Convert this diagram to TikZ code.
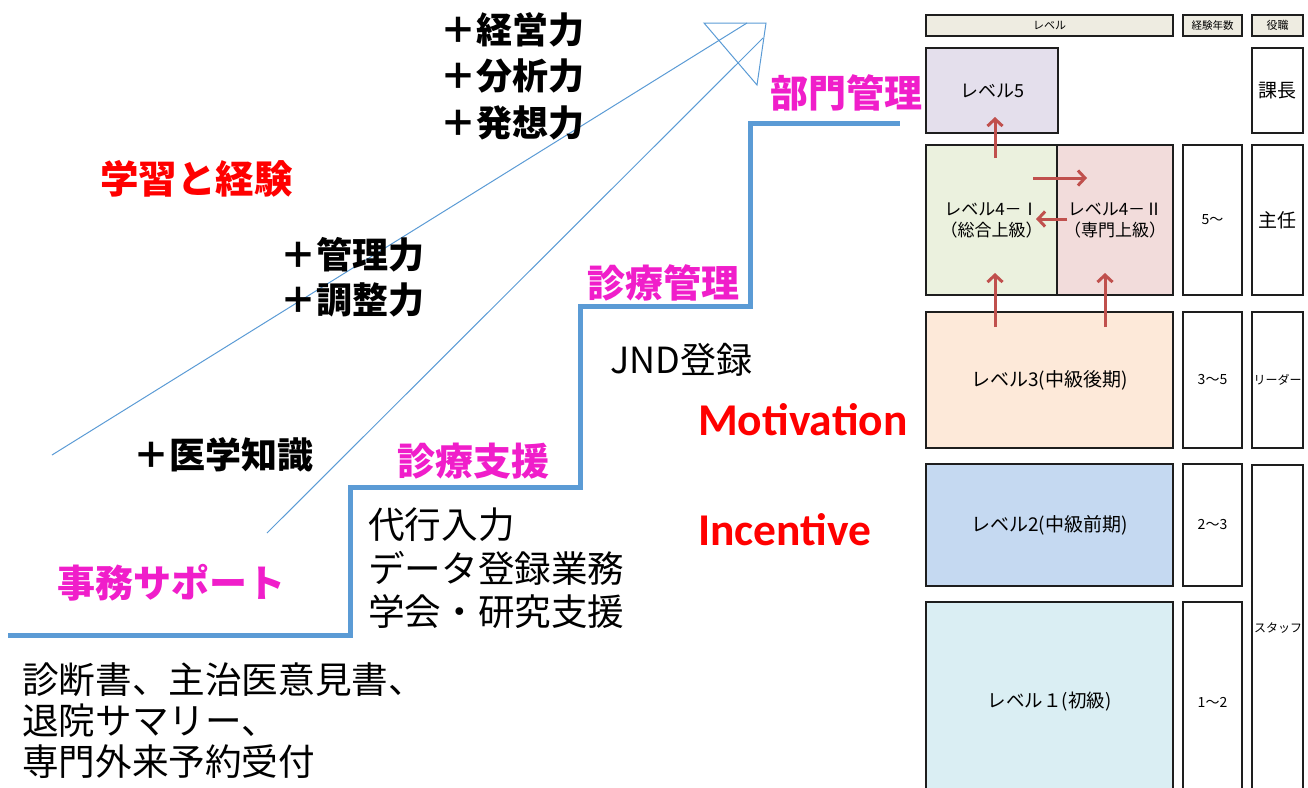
\documentclass[tikz,border=0pt]{standalone}
\usepackage{fontspec}
\setmainfont{Noto Sans CJK JP}
\newfontfamily\latfont{Carlito}
\usetikzlibrary{arrows.meta}
\definecolor{stepblue}{HTML}{5B9BD5}
\definecolor{magtext}{HTML}{F01ECA}
\definecolor{redtext}{HTML}{FF0000}
\definecolor{arrred}{HTML}{C0504D}
\definecolor{cellline}{HTML}{1E1E1E}
\definecolor{hdrfill}{HTML}{EEECE1}
\definecolor{lvfive}{HTML}{E4DFEC}
\definecolor{lvfoura}{HTML}{EBF1DE}
\definecolor{lvfourb}{HTML}{F2DCDB}
\definecolor{lvthree}{HTML}{FDE9D9}
\definecolor{lvtwo}{HTML}{C5D9F1}
\definecolor{lvone}{HTML}{DAEEF3}
\begin{document}
\begin{tikzpicture}[x=1pt,y=-1pt,
  blabel/.style={font=\fontsize{36}{36}\selectfont\bfseries, inner sep=0, anchor=west},
  maglabel/.style={font=\fontsize{38}{38}\selectfont\bfseries, text=magtext, inner sep=0, anchor=west},
  bodytext/.style={font=\fontsize{36.6}{36.6}\selectfont, inner sep=0, anchor=west},
  engred/.style={font=\latfont\fontsize{45.5}{45.5}\selectfont\bfseries, text=redtext, inner sep=0, anchor=base west},
  cell/.style={draw=cellline, line width=2pt, inner sep=0, text=black},
  thinarrow/.style={draw=stepblue, line width=1pt},
  stepline/.style={draw=stepblue, line width=5pt},
  redarrow/.style={draw=arrred, line width=3pt, -{Straight Barb[length=7pt,width=15pt]}}
]
\useasboundingbox (0,0) rectangle (1308,787);

% ---- big hollow arrow (outline lines) ----
\coordinate (sh1a) at (52,455);
\coordinate (sh1b) at (747,23);
\coordinate (sh2a) at (267,533);
\coordinate (sh2b) at (763,38);
\coordinate (hdL) at (704,23);
\coordinate (hdT) at (766,23);
\coordinate (hdB) at (757,85);
\draw[thinarrow] (sh1a) -- (sh1b);
\draw[thinarrow] (sh2a) -- (sh2b);
\draw[thinarrow] (hdL) -- (hdT) -- (hdB) -- cycle;

% ---- stairs ----
\draw[stepline] (8,635) -- (350,635) -- (350,487) -- (580,487) -- (580,306) -- (750,306) -- (750,123) -- (900,123);

% ---- left labels ----
\node[blabel] (k1) at (440,30) {＋経営力};
\node[blabel] (k2) at (440,76) {＋分析力};
\node[blabel] (k3) at (440,123) {＋発想力};
\node[font=\fontsize{38.5}{38.5}\selectfont\bfseries, text=redtext, inner sep=0, anchor=west] (gk) at (100,179) {学習と経験};
\node[blabel] (m1) at (280,255) {＋管理力};
\node[blabel] (m2) at (280,300) {＋調整力};
\node[blabel] (ig) at (133,455) {＋医学知識};

\node[maglabel] (s1) at (57,583) {事務サポート};
\node[maglabel] (s2) at (397,461) {診療支援};
\node[maglabel] (s3) at (587,283) {診療管理};
\node[maglabel] (s4) at (770,93) {部門管理};

\node[bodytext] (b1) at (22,680) {診断書、主治医意見書、};
\node[bodytext] (b2) at (22,721) {退院サマリー、};
\node[bodytext] (b3) at (22,762) {専門外来予約受付};
\node[bodytext] (c1) at (368,525) {代行入力};
\node[bodytext] (c2) at (368,568) {データ登録業務};
\node[bodytext] (c3) at (368,612) {学会・研究支援};
\node[bodytext, font=\fontsize{36}{36}\selectfont] (jnd) at (610,360) {JND登録};

\node[engred] (mot) at (698,435) {Motivation};
\node[engred] (inc) at (698,545) {Incentive};

% ---- table ----
\node[cell, fill=hdrfill, minimum width=247pt, minimum height=21pt, font=\fontsize{11}{11}\selectfont] (h1) at (1049.5,25.5) {レベル};
\node[cell, fill=hdrfill, minimum width=59pt, minimum height=21pt, font=\fontsize{10.5}{10.5}\selectfont] (h2) at (1212.5,25.5) {経験年数};
\node[cell, fill=hdrfill, minimum width=51pt, minimum height=21pt, font=\fontsize{11}{11}\selectfont] (h3) at (1277.5,25.5) {役職};

\node[cell, fill=lvfive, minimum width=132pt, minimum height=85pt, font=\fontsize{18}{18}\selectfont] (lv5) at (992,90.5) {レベル5};
\node[cell, minimum width=51pt, minimum height=85pt, font=\fontsize{19}{19}\selectfont] (p5) at (1277.5,90.5) {課長};

\node[cell, fill=lvfoura, minimum width=131pt, minimum height=150pt, align=center, font=\fontsize{17}{21}\selectfont] (lv4a) at (991.5,220) {レベル4－Ⅰ\\（総合上級）};
\node[cell, fill=lvfourb, minimum width=116pt, minimum height=150pt, align=center, font=\fontsize{17}{21}\selectfont] (lv4b) at (1115,220) {レベル4－Ⅱ\\（専門上級）};
\node[cell, minimum width=59pt, minimum height=150pt, font=\fontsize{14}{14}\selectfont] (y4) at (1212.5,220) {5～};
\node[cell, minimum width=51pt, minimum height=150pt, font=\fontsize{19}{19}\selectfont] (p4) at (1277.5,220) {主任};

\node[cell, fill=lvthree, minimum width=247pt, minimum height=136pt, font=\fontsize{19}{19}\selectfont] (lv3) at (1049.5,380) {レベル3(中級後期)};
\node[cell, minimum width=59pt, minimum height=136pt, font=\fontsize{14}{14}\selectfont] (y3) at (1212.5,380) {3～5};
\node[cell, minimum width=51pt, minimum height=136pt, font=\fontsize{12}{12}\selectfont] (p3) at (1277.5,380) {リーダー};

\node[cell, fill=lvtwo, minimum width=247pt, minimum height=122pt, font=\fontsize{19}{19}\selectfont] (lv2) at (1049.5,525) {レベル2(中級前期)};
\node[cell, minimum width=59pt, minimum height=122pt, font=\fontsize{14}{14}\selectfont] (y2) at (1212.5,525) {2～3};

\node[cell, fill=lvone, minimum width=247pt, minimum height=200pt, font=\fontsize{18.5}{18.5}\selectfont] (lv1) at (1049.5,702) {レベル１(初級)};
\node[cell, minimum width=59pt, minimum height=200pt, font=\fontsize{14}{14}\selectfont] (y1) at (1212.5,702) {1～2};
\node[cell, minimum width=51pt, minimum height=340pt, anchor=north] (p1) at (1277.5,464) {};
\node[inner sep=0, font=\fontsize{12}{12}\selectfont, text=black] (p1t) at (1278,628) {スタッフ};

% ---- red arrows ----
\coordinate (a1s) at (995,158);
\coordinate (a1e) at (995,117);
\coordinate (a2s) at (1033,178);
\coordinate (a2e) at (1087,178);
\coordinate (a3s) at (1067,219);
\coordinate (a3e) at (1036,219);
\coordinate (a4s) at (995,327);
\coordinate (a4e) at (995,273);
\coordinate (a5s) at (1105,327);
\coordinate (a5e) at (1105,273);
\draw[redarrow] (a1s) -- (a1e);
\draw[redarrow] (a2s) -- (a2e);
\draw[redarrow] (a3s) -- (a3e);
\draw[redarrow] (a4s) -- (a4e);
\draw[redarrow] (a5s) -- (a5e);
\end{tikzpicture}
\end{document}
